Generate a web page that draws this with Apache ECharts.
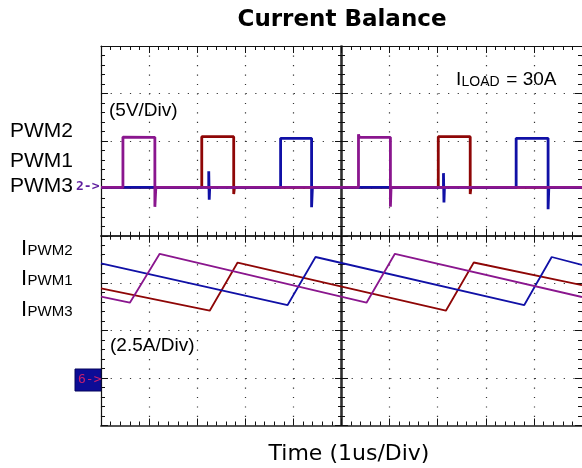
<!DOCTYPE html>
<html><head><meta charset="utf-8">
<script src="https://cdn.jsdelivr.net/npm/echarts@6/dist/echarts.min.js"></script>
<style>html,body{margin:0;padding:0;background:#fff}#c{width:582px;height:468px}</style>
</head><body><div id="c"></div>
<script>
// ---- data (time in us, 1us/div) ----
const timeRange = [-5, 5];
const voltRange = [-5, 15];     // 5V/div
const ampRange = [-2.5, 7.5];   // 2.5A/div
// PWM gate signals [t(us), V]
const pwm1 = [[-5,0.1],[-2.905,0.1],[-2.905,5.44],[-2.241,5.44],[-2.241,-0.6],[-2.225,0.1],[2.012,0.1],[2.012,5.44],[2.676,5.44],[2.676,-0.6],[2.69,0.1],[5,0.1]];
const pwm2 = [[-5,0.1],[-4.544,0.1],[-4.544,5.4],[-3.88,5.37],[-3.88,-1.95],[-3.86,0.1],[0.353,0.1],[0.353,5.7],[0.37,5.37],[1.017,5.37],[1.017,-1.95],[1.03,0.1],[5,0.1]];
const pwm3 = [[-5,0.1],[-2.76,0.1],[-2.76,1.8],[-2.75,-1.2],[-2.74,0.1],[-1.266,0.1],[-1.266,5.27],[-0.622,5.27],[-0.622,-2.0],[-0.605,0.1],[2.12,0.1],[2.12,1.6],[2.13,-1.5],[2.14,0.1],[3.631,0.1],[3.631,5.27],[4.295,5.27],[4.295,-2.2],[4.31,0.1],[5,0.1]];
// Phase currents [t(us), A]
const ipwm1 = [[-5,4.73],[-2.74,3.55],[-2.16,6.09],[2.17,3.55],[2.75,6.09],[5,4.90]];
const ipwm2 = [[-5,4.29],[-4.40,3.97],[-3.78,6.55],[0.52,3.97],[1.11,6.55],[5,4.27]];
const ipwm3 = [[-5,6.05],[-1.12,3.85],[-0.54,6.38],[3.80,3.85],[4.37,6.38],[5,5.96]];

const C_RED = '#8E0606', C_BLUE = '#1010A6', C_PURP = '#8A168E';
const L = 101, W = 482, T = 46, H = 189.75;
const ink = '#111';

function xAx(grid, pos, split, lw, col) {
  return {
    type: 'value', gridIndex: grid, position: pos, min: timeRange[0], max: timeRange[1], interval: 1,
    axisLine: { show: true, onZero: false, lineStyle: { color: col || ink, width: lw } },
    axisTick: { show: true, inside: true, length: 7, lineStyle: { color: ink, width: 1 } },
    minorTick: { show: true, splitNumber: 5, length: 4, lineStyle: { color: ink, width: 1 } },
    axisLabel: { show: false },
    splitLine: { show: split, lineStyle: { color: '#333', width: 1.2, type: [1.2, 8.28] } }
  };
}
function yAx(grid, range, step, pos, offset, inside, split, lw, col) {
  return {
    type: 'value', gridIndex: grid, position: pos, offset: offset, min: range[0], max: range[1], interval: step,
    axisLine: { show: true, onZero: false, lineStyle: { color: col || ink, width: lw } },
    axisTick: { show: true, inside: inside, length: 7, lineStyle: { color: ink, width: 1 } },
    minorTick: { show: true, splitNumber: 5, length: 4, lineStyle: { color: ink, width: 1 } },
    axisLabel: { show: false },
    splitLine: { show: split, lineStyle: { color: '#333', width: 1.2, type: [1.2, 8.44] } }
  };
}
function line(data, color, xi, yi, w, z) {
  return { type: 'line', data: data, xAxisIndex: xi, yAxisIndex: yi, showSymbol: false, symbol: 'none',
    lineStyle: { color: color, width: w }, z: z, animation: false };
}
function txt(text, x, base, fs, opt) {
  opt = opt || {};
  const fam = opt.family || '"Liberation Sans", Arial, sans-serif';
  return { type: 'text', x: x, y: base - 0.31 * fs, z: 100,
    style: { text: text, font: (opt.weight || 'normal') + ' ' + fs + 'px ' + fam, fill: opt.color || '#000',
      align: opt.align || 'left', verticalAlign: 'middle' } };
}

const chart = echarts.init(document.getElementById('c'), null, { renderer: 'canvas' });
chart.setOption({
  animation: false,
  backgroundColor: '#fff',
  grid: [
    { left: L, top: T, width: W, height: H },
    { left: L, top: T + H, width: W, height: H }
  ],
  xAxis: [
    xAx(0, 'top', true, 1),
    xAx(0, 'bottom', false, 1.5, '#222'),
    xAx(1, 'top', true, 1.5, '#222'),
    xAx(1, 'bottom', false, 2, '#555')
  ],
  yAxis: [
    yAx(0, voltRange, 5, 'left', 0, true, true, 1.2),
    yAx(0, voltRange, 5, 'right', 0, true, false, 1),
    yAx(0, voltRange, 5, 'left', -W / 2, false, false, 1.5, '#222'),
    yAx(0, voltRange, 5, 'right', -W / 2, false, false, 1.5, '#222'),
    yAx(1, ampRange, 2.5, 'left', 0, true, true, 1.2),
    yAx(1, ampRange, 2.5, 'right', 0, true, false, 1),
    yAx(1, ampRange, 2.5, 'left', -W / 2, false, false, 1.5, '#222'),
    yAx(1, ampRange, 2.5, 'right', -W / 2, false, false, 1.5, '#222')
  ],
  series: [
    line(pwm1, C_RED, 0, 0, 2.8, 3),
    line(pwm3, C_BLUE, 0, 0, 2.8, 4),
    line(pwm2, C_PURP, 0, 0, 2.8, 5),
    line(ipwm1, C_RED, 2, 4, 1.8, 3),
    line(ipwm3, C_BLUE, 2, 4, 1.8, 4),
    line(ipwm2, C_PURP, 2, 4, 1.8, 5)
  ],
  graphic: [
    txt('Current Balance', 342, 27, 23, { weight: 'bold', family: '"DejaVu Sans", sans-serif', align: 'center' }),
    txt('Time (1us/Div)', 349, 461, 22, { family: '"DejaVu Sans", sans-serif', align: 'center' }),
    txt('PWM2', 10, 138, 21),
    txt('PWM1', 10, 168, 21),
    txt('PWM3', 10, 193, 21),
    { type: 'text', x: 76, y: 187, z: 100, style: { text: '2->', font: 'bold 13px "DejaVu Sans Mono", monospace', fill: '#5E1E9E', verticalAlign: 'middle' } },
    txt('I', 21, 256, 22), txt('PWM2', 27.5, 256, 15),
    txt('I', 21, 286, 22), txt('PWM1', 27.5, 286, 15),
    txt('I', 21, 317, 22), txt('PWM3', 27.5, 317, 15),
    txt('(5V/Div)', 109, 117, 19),
    txt('(2.5A/Div)', 110, 352, 19),
    txt('I', 456, 86, 19), txt('LOAD', 461.5, 86, 14), txt(' = 30A', 501, 86, 19),
    { type: 'rect', z: 90, shape: { x: 75, y: 369, width: 26, height: 22 }, style: { fill: '#0C0C96', stroke: '#04045A', lineWidth: 1 } },
    { type: 'text', x: 78, y: 380, z: 100, style: { text: '6->', font: '13px "DejaVu Sans Mono", monospace', fill: '#C8206E', verticalAlign: 'middle' } }
  ]
});
</script>
</body></html>
